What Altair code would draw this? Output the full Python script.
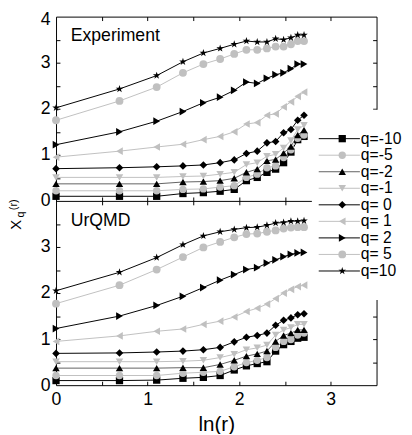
import altair as alt
import pandas as pd

# ln(r) for r = 1..15
lnr = [0.0, 0.693, 1.099, 1.386, 1.609, 1.792, 1.946, 2.079, 2.197, 2.303, 2.398, 2.485, 2.565, 2.639, 2.708]
q_labels = ["q=-10", "q=-5", "q=-2", "q=-1", "q= 0", "q= 1", "q= 2", "q= 5", "q=10"]

# Experiment panel
exp_m10 = [0.10, 0.10, 0.10, 0.16, 0.18, 0.21, 0.25, 0.44, 0.51, 0.62, 0.69, 0.83, 1.06, 1.33, 1.40]
exp_m5 = [0.22, 0.22, 0.22, 0.25, 0.26, 0.30, 0.33, 0.51, 0.58, 0.72, 0.76, 0.94, 1.11, 1.36, 1.43]
exp_m2 = [0.37, 0.37, 0.37, 0.41, 0.42, 0.44, 0.49, 0.62, 0.69, 0.87, 0.90, 1.04, 1.18, 1.43, 1.54]
exp_m1 = [0.51, 0.51, 0.51, 0.53, 0.54, 0.58, 0.62, 0.79, 0.83, 0.97, 1.01, 1.15, 1.31, 1.55, 1.64]
exp_0 = [0.70, 0.72, 0.74, 0.76, 0.78, 0.83, 0.89, 1.03, 1.08, 1.26, 1.29, 1.48, 1.55, 1.75, 1.86]
exp_1 = [0.95, 1.08, 1.17, 1.23, 1.33, 1.40, 1.50, 1.67, 1.70, 1.86, 1.89, 2.04, 2.15, 2.27, 2.36]
exp_2 = [1.22, 1.50, 1.73, 1.94, 2.13, 2.25, 2.40, 2.58, 2.55, 2.66, 2.74, 2.78, 2.87, 2.97, 2.97]
exp_5 = [1.75, 2.17, 2.47, 2.78, 2.97, 3.08, 3.19, 3.28, 3.28, 3.31, 3.35, 3.35, 3.40, 3.47, 3.47]
exp_10 = [2.02, 2.43, 2.72, 3.02, 3.21, 3.31, 3.40, 3.47, 3.45, 3.45, 3.52, 3.50, 3.54, 3.60, 3.60]

# UrQMD panel
urq_m10 = [0.10, 0.10, 0.11, 0.15, 0.17, 0.21, 0.33, 0.42, 0.47, 0.51, 0.74, 0.88, 0.95, 1.02, 1.04]
urq_m5 = [0.21, 0.21, 0.21, 0.26, 0.28, 0.30, 0.40, 0.49, 0.54, 0.60, 0.82, 0.95, 0.99, 1.09, 1.13]
urq_m2 = [0.37, 0.37, 0.37, 0.38, 0.38, 0.45, 0.54, 0.63, 0.68, 0.74, 0.95, 1.08, 1.13, 1.20, 1.20]
urq_m1 = [0.51, 0.51, 0.51, 0.52, 0.54, 0.60, 0.67, 0.77, 0.81, 0.87, 1.09, 1.20, 1.25, 1.32, 1.32]
urq_0 = [0.69, 0.70, 0.72, 0.74, 0.77, 0.82, 0.94, 1.04, 1.08, 1.13, 1.30, 1.41, 1.46, 1.53, 1.55]
urq_1 = [0.95, 1.07, 1.17, 1.22, 1.32, 1.39, 1.48, 1.60, 1.67, 1.76, 1.88, 2.00, 2.08, 2.14, 2.17]
urq_2 = [1.23, 1.50, 1.73, 1.93, 2.12, 2.28, 2.40, 2.51, 2.55, 2.65, 2.72, 2.79, 2.84, 2.87, 2.88]
urq_5 = [1.77, 2.17, 2.51, 2.78, 2.99, 3.11, 3.21, 3.28, 3.29, 3.33, 3.36, 3.40, 3.42, 3.43, 3.43]
urq_10 = [2.05, 2.45, 2.77, 3.05, 3.24, 3.33, 3.38, 3.42, 3.43, 3.47, 3.52, 3.53, 3.56, 3.56, 3.57]

exp_series = [exp_m10, exp_m5, exp_m2, exp_m1, exp_0, exp_1, exp_2, exp_5, exp_10]
urq_series = [urq_m10, urq_m5, urq_m2, urq_m1, urq_0, urq_1, urq_2, urq_5, urq_10]

x_ticks = [0, 1, 2, 3]
x_minor = [0.5, 1, 1.5, 2, 2.5, 3]
y_minor = [0.5, 1, 1.5, 2, 2.5, 3, 3.5]

FONT = "Liberation Sans"
W, H, PH = 327, 376, 188


def long(series):
    rows = []
    for q, vals in zip(q_labels, series):
        for x, y in zip(lnr, vals):
            rows.append({"q": q, "x": x, "y": y})
    return pd.DataFrame(rows)


df_exp = long(exp_series)
df_urq = long(urq_series)
df_leg = pd.DataFrame({"q": q_labels, "row": list(range(len(q_labels)))})

star = "M0,-1L0.225,-0.309L0.951,-0.309L0.363,0.118L0.588,0.809L0,0.382L-0.588,0.809L-0.363,0.118L-0.951,-0.309L-0.225,-0.309Z"
stroke_scale = alt.Scale(domain=q_labels, range=["black", "#c0c0c0", "#606060", "#c0c0c0", "black",
                                                  "#c0c0c0", "black", "#c0c0c0", "black"])
fill_scale = alt.Scale(domain=q_labels, range=["black", "#c0c0c0", "black", "#c0c0c0", "black",
                                                "#c0c0c0", "black", "#c0c0c0", "black"])
shape_scale = alt.Scale(domain=q_labels, range=["square", "circle", "triangle-up", "triangle-down", "diamond",
                                                 "triangle-left", "triangle-right", "circle", star])
size_scale = alt.Scale(domain=q_labels, range=[55, 65, 80, 80, 85, 80, 80, 65, 130])

xs = alt.Scale(domain=[0, 3.5], nice=False, zero=False)
ys_top = alt.Scale(domain=[0, 4], range=[PH, 0], nice=False, zero=False)
ys_bot = alt.Scale(domain=[0, 4], range=[H, PH], nice=False, zero=False)


def tick_axis(orient, offset, values, domain=False):
    return alt.Axis(orient=orient, offset=offset, values=values, labels=False, ticks=True, tickSize=4,
                    domain=domain, title=None, grid=False, zindex=0)


def ylab_axis(values, offset=0):
    return alt.Axis(orient="left", values=values, ticks=False, domain=False, labelFontSize=18,
                    labelPadding=6, labelOffset=offset, title=None, grid=False, format="d")


ax_x_labels = alt.Axis(orient="bottom", values=x_ticks, ticks=False, domain=False, labelFontSize=18,
                       labelPadding=6, title="ln(r)", titleFontSize=21, titleFontWeight="normal",
                       titlePadding=5, grid=False, format="d", labelFlush=False)


def lines(df, ys, xaxis, yaxis):
    return alt.Chart(df).mark_line(strokeWidth=1).encode(
        x=alt.X("x:Q", scale=xs, axis=xaxis),
        y=alt.Y("y:Q", scale=ys, axis=yaxis),
        stroke=alt.Stroke("q:N", scale=stroke_scale, legend=None),
        order=alt.Order("x:Q"),
    )


def points(df, ys, xaxis, yaxis, opacity=1):
    return alt.Chart(df).mark_point(filled=True, opacity=opacity, strokeWidth=0).encode(
        x=alt.X("x:Q", scale=xs, axis=xaxis),
        y=alt.Y("y:Q", scale=ys, axis=yaxis),
        shape=alt.Shape("q:N", scale=shape_scale, legend=None),
        fill=alt.Fill("q:N", scale=fill_scale, legend=None),
        size=alt.Size("q:N", scale=size_scale, legend=None),
    )


L1 = lines(df_exp, ys_top, ax_x_labels, ylab_axis([0, 1, 2, 3]))
L2 = points(df_exp, ys_top, tick_axis("top", -H, x_minor), tick_axis("right", -W, y_minor))
L3 = lines(df_urq, ys_bot, tick_axis("top", -PH, x_minor, domain=True), ylab_axis([0, 1, 2, 3]))
L4 = points(df_urq, ys_bot, tick_axis("bottom", -PH, x_minor), tick_axis("right", -W, y_minor))
L5 = points(df_exp, ys_top, tick_axis("bottom", -H, x_minor), tick_axis("left", -W, y_minor), opacity=0)
L6 = points(df_urq, ys_bot, None, tick_axis("left", -W, y_minor), opacity=0)
L7 = points(df_exp, ys_top, None, ylab_axis([4], offset=3), opacity=0)

one = alt.Data(values=[{}])
leg_bg = alt.Chart(one).mark_rect(fill="white").encode(
    x=alt.value(261), x2=alt.value(360), y=alt.value(95), y2=alt.value(289))

leg_y = alt.Scale(domain=[0, 8], range=[124.5, 259.5])
leg_lines = alt.Chart(df_leg).mark_rule(strokeWidth=1).encode(
    x=alt.value(268), x2=alt.value(310),
    y=alt.Y("row:Q", scale=leg_y, axis=None),
    stroke=alt.Stroke("q:N", scale=stroke_scale, legend=None),
)
leg_pts = alt.Chart(df_leg).mark_point(filled=True, opacity=1, strokeWidth=0).encode(
    x=alt.value(292),
    y=alt.Y("row:Q", scale=leg_y, axis=None),
    shape=alt.Shape("q:N", scale=shape_scale, legend=None),
    fill=alt.Fill("q:N", scale=fill_scale, legend=None),
    size=alt.Size("q:N", scale=size_scale, legend=None),
)
leg_txt = alt.Chart(df_leg).mark_text(align="left", baseline="middle", fontSize=16, font=FONT,
                                      color="black").encode(
    x=alt.value(311),
    y=alt.Y("row:Q", scale=leg_y, axis=None),
    text="q:N",
)


def note(txt, x, y, size, angle=0, align="left", baseline="alphabetic"):
    kw = dict(fontSize=size, font=FONT, color="black", align=align, baseline=baseline)
    if angle:
        kw["angle"] = angle
    return alt.Chart(one).mark_text(**kw).encode(x=alt.value(x), y=alt.value(y), text=alt.value(txt))


n_exp = note("Experiment", 15, 24.5, 18)
n_urq = note("UrQMD", 15, 213.5, 18)
t_X = note("X", -40.5, 212.5, 15, angle=270, align="center", baseline="middle")
t_q = note("q", -35.5, 202, 11, angle=270, align="center", baseline="middle")
t_r = note("(r)", -43, 192, 11, angle=270, align="center", baseline="middle")

chart = alt.layer(
    L1, L2, L3, L4, L5, L6, L7, leg_bg, leg_lines, leg_pts, leg_txt, n_exp, n_urq, t_X, t_q, t_r
).resolve_scale(y="independent").resolve_axis(x="independent", y="independent").properties(
    width=W, height=H,
    autosize=alt.AutoSizeParams(type="none"),
    padding={"left": 49, "top": 4.5, "right": 28, "bottom": 45},
).configure_view(stroke="black", strokeWidth=1).configure_axis(
    labelFont=FONT, titleFont=FONT, labelColor="black", titleColor="black",
    tickColor="black", domainColor="black", tickWidth=1, domainWidth=1,
)

chart.save("out.html", embed_options={"renderer": "svg", "actions": False})
